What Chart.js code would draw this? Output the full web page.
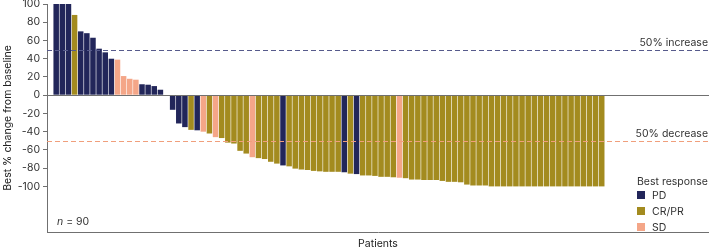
<!DOCTYPE html>
<html>
<head>
<meta charset="utf-8">
<script src="https://cdn.jsdelivr.net/npm/chart.js@4"></script>
<style>
  body { margin: 0; background: #fff; }
  #wrap { width: 709px; height: 252px; position: relative; }
</style>
</head>
<body>
<div id="wrap"><canvas id="myChart"></canvas></div>
<script>
"use strict";

// best % change from baseline, one value per patient (sorted waterfall)
const changeValues = [
  100, 100, 100, 88, 70, 68, 63, 51, 47, 40,
  39, 21, 18, 17, 12, 11.5, 10, 6, 0, -16,
  -31, -35, -38, -38.5, -40, -42, -46, -47, -52, -53,
  -61, -64, -68, -69, -70, -73, -75, -77, -78, -80.5,
  -81.5, -82, -83, -83.5, -84, -84, -84, -84.5, -86, -86.5,
  -88, -88, -88.5, -89.5, -89.5, -90, -90.5, -91, -92.5, -92.5,
  -93, -93, -93, -94, -95, -95, -95.5, -98, -99, -99,
  -99, -100, -100, -100, -100, -100, -100, -100, -100, -100,
  -100, -100, -100, -100, -100, -100, -100, -100, -100, -100
];
// best response for each patient
const bestResponse = [
  "PD", "PD", "PD", "CR/PR", "PD", "PD", "PD", "PD", "PD", "PD",
  "SD", "SD", "SD", "SD", "PD", "PD", "PD", "PD", "SD", "PD",
  "PD", "PD", "CR/PR", "PD", "SD", "CR/PR", "SD", "CR/PR", "CR/PR", "CR/PR",
  "CR/PR", "CR/PR", "SD", "CR/PR", "CR/PR", "CR/PR", "CR/PR", "PD", "CR/PR", "CR/PR",
  "CR/PR", "CR/PR", "CR/PR", "CR/PR", "CR/PR", "CR/PR", "CR/PR", "PD", "CR/PR", "PD",
  "CR/PR", "CR/PR", "CR/PR", "CR/PR", "CR/PR", "CR/PR", "SD", "CR/PR", "CR/PR", "CR/PR",
  "CR/PR", "CR/PR", "CR/PR", "CR/PR", "CR/PR", "CR/PR", "CR/PR", "CR/PR", "CR/PR", "CR/PR",
  "CR/PR", "CR/PR", "CR/PR", "CR/PR", "CR/PR", "CR/PR", "CR/PR", "CR/PR", "CR/PR", "CR/PR",
  "CR/PR", "CR/PR", "CR/PR", "CR/PR", "CR/PR", "CR/PR", "CR/PR", "CR/PR", "CR/PR", "CR/PR"
];
const responseTypes = ["PD", "CR/PR", "SD"];
const responseColors = { "PD": "#22265a", "CR/PR": "#a38b1f", "SD": "#f4a688" };
const yTickValues = [100, 80, 60, 40, 20, 0, -20, -40, -60, -80, -100];
const refLines = [
  { value: 50, label: "50% increase", color: "#575b8c" },
  { value: -50, label: "50% decrease", color: "#f09f7c" }
];
const nPatients = changeValues.length;

// empty slots before / after the bars (axis runs past the last patient)
const padAfter = 17;
let labels = [""];
for (let i = 0; i < nPatients; i++) labels.push("Patient " + (i + 1));
for (let i = 0; i < padAfter; i++) labels.push("");
let barData = [null].concat(changeValues);
let barColors = ["#fff"].concat(bestResponse.map(r => responseColors[r]));
for (let i = 0; i < padAfter; i++) { barData.push(null); barColors.push("#fff"); }

const fontFamily = "Inter, 'Liberation Sans', sans-serif";
Chart.defaults.font.family = fontFamily;
Chart.defaults.font.size = 10.5;
Chart.defaults.color = "#333";

//DISEGNO LINEE DI RIFERIMENTO, TESTI E LEGENDA
const overlay = {
  id: "overlay",
  afterDatasetsDraw(chart) {
    let ctx = chart.ctx;
    let a = chart.chartArea;
    let y = chart.scales.y;
    ctx.save();

    // zero line
    let y0 = Math.round(y.getPixelForValue(0)) + 0.5;
    ctx.strokeStyle = "#707070";
    ctx.lineWidth = 1;
    ctx.beginPath(); ctx.moveTo(a.left, y0); ctx.lineTo(a.right, y0); ctx.stroke();

    // dashed reference lines
    ctx.font = "10.5px " + fontFamily;
    ctx.fillStyle = "#333";
    ctx.textAlign = "right";
    ctx.textBaseline = "bottom";
    refLines.forEach(function (r) {
      let py = Math.round(y.getPixelForValue(r.value)) + 0.5;
      ctx.strokeStyle = r.color;
      ctx.setLineDash([5, 3]);
      ctx.beginPath(); ctx.moveTo(a.left, py); ctx.lineTo(a.right, py); ctx.stroke();
      ctx.fillText(r.label, a.right - 1, py - 2);
    });
    ctx.setLineDash([]);

    // n = 90
    ctx.textAlign = "left";
    ctx.textBaseline = "middle";
    ctx.font = "italic 10.5px " + fontFamily;
    ctx.fillText("n", a.left + 10, 222);
    let w = ctx.measureText("n").width;
    ctx.font = "10.5px " + fontFamily;
    ctx.fillText(" = " + nPatients, a.left + 10 + w, 222);

    // legend
    ctx.fillText("Best response", 637, 182);
    responseTypes.forEach(function (r, i) {
      ctx.fillStyle = responseColors[r];
      ctx.fillRect(637, 191 + i * 16, 8, 8);
      ctx.fillStyle = "#333";
      ctx.fillText(r, 652, 195.5 + i * 16);
    });
    ctx.restore();
  }
};

new Chart(document.getElementById("myChart"), {
  type: "bar",
  data: {
    labels: labels,
    datasets: [{
      data: barData,
      backgroundColor: barColors,
      borderWidth: 0,
      barPercentage: 0.9,
      categoryPercentage: 1
    }]
  },
  options: {
    responsive: true,
    maintainAspectRatio: false,
    animation: false,
    layout: { padding: { top: 4, right: 0, bottom: 0, left: 0 } },
    plugins: { legend: { display: false }, tooltip: { enabled: false } },
    scales: {
      x: {
        offset: true,
        ticks: { display: false },
        grid: { display: false },
        border: { display: true, color: "#707070", width: 1 },
        title: { display: true, text: "Patients", color: "#222", padding: { top: 0, bottom: 1.5 } },
        afterFit: function (s) { s.height = 20; }
      },
      y: {
        min: -150,
        max: 100,
        afterBuildTicks: function (s) { s.ticks = yTickValues.map(v => ({ value: v })); },
        ticks: { padding: 3, color: "#333", autoSkip: false },
        grid: { drawOnChartArea: false, drawTicks: true, tickLength: 4, tickColor: "#707070" },
        border: { display: true, color: "#707070", width: 1 },
        title: { display: true, text: "Best % change from baseline", color: "#222", padding: { top: 1.5, bottom: 0 } },
        afterFit: function (s) {
          s.width = 47;
          s.paddingTop = 0;
          s.paddingBottom = 0;
        }
      }
    }
  },
  plugins: [overlay]
});
</script>
</body>
</html>
